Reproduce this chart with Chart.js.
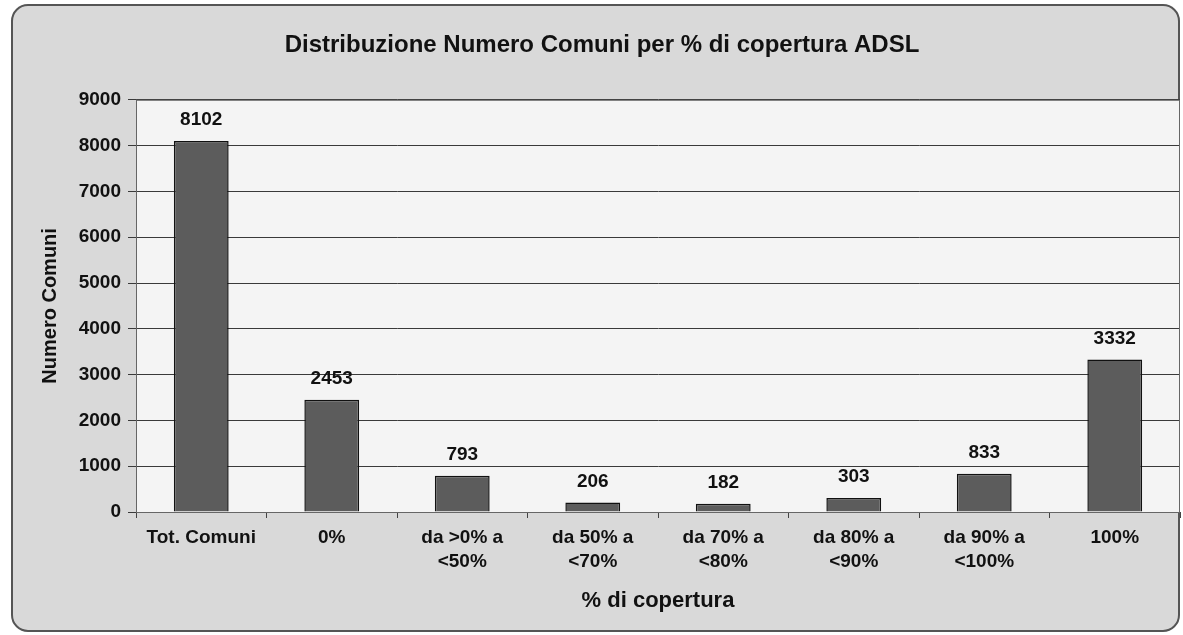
<!DOCTYPE html>
<html>
<head>
<meta charset="utf-8">
<script src="https://cdn.jsdelivr.net/npm/chart.js@4.4.1/dist/chart.umd.min.js"></script>
<style>
  html, body { margin: 0; padding: 0; background: #fff; }
  #wrap { width: 1183px; height: 635px; position: relative; }
</style>
</head>
<body>
<div id="wrap"><canvas id="chart"></canvas></div>
<script>
// dati
const categories = [
  'Tot. Comuni',
  '0%',
  ['da >0% a', '<50%'],
  ['da 50% a', '<70%'],
  ['da 70% a', '<80%'],
  ['da 80% a', '<90%'],
  ['da 90% a', '<100%'],
  '100%'
];
const numeroComuni = [8102, 2453, 793, 206, 182, 303, 833, 3332];
const yTicks = [0, 1000, 2000, 3000, 4000, 5000, 6000, 7000, 8000, 9000];

const FONT = 'Liberation Sans, Arial, sans-serif';

// sfondo della cornice e dell'area del grafico
const backgroundPlugin = {
  id: 'background',
  beforeDraw(chart) {
    const { ctx, chartArea } = chart;
    ctx.save();
    ctx.fillStyle = '#ffffff';
    ctx.fillRect(0, 0, chart.width, chart.height);
    ctx.beginPath();
    ctx.roundRect(12, 5, 1167, 626, 16);
    ctx.fillStyle = '#d9d9d9';
    ctx.fill();
    ctx.lineWidth = 2;
    ctx.strokeStyle = '#555';
    ctx.stroke();
    ctx.fillStyle = '#f4f4f4';
    ctx.fillRect(chartArea.left, chartArea.top, chartArea.right - chartArea.left, chartArea.bottom - chartArea.top);
    ctx.restore();
  },
  afterDraw(chart) {
    const { ctx, chartArea } = chart;
    ctx.save();
    ctx.strokeStyle = '#666';
    ctx.lineWidth = 1;
    ctx.strokeRect(chartArea.left + 0.5, chartArea.top + 0.5, chartArea.right - chartArea.left - 1, chartArea.bottom - chartArea.top);
    ctx.restore();
  }
};

// etichette dei valori sopra le barre
const valueLabels = {
  id: 'valueLabels',
  afterDatasetsDraw(chart) {
    const { ctx } = chart;
    const meta = chart.getDatasetMeta(0);
    ctx.save();
    ctx.font = 'bold 19px ' + FONT;
    ctx.fillStyle = '#111';
    ctx.textAlign = 'center';
    ctx.textBaseline = 'middle';
    meta.data.forEach((bar, i) => {
      ctx.fillText(String(numeroComuni[i]), bar.x, bar.y - 21);
    });
    ctx.restore();
  }
};

new Chart(document.getElementById('chart'), {
  type: 'bar',
  data: {
    labels: categories,
    datasets: [{
      label: 'Numero Comuni',
      data: numeroComuni,
      backgroundColor: '#5c5c5c',
      borderColor: '#111',
      borderWidth: 1.5,
      barPercentage: 0.42,
      categoryPercentage: 1
    }]
  },
  options: {
    responsive: true,
    maintainAspectRatio: false,
    animation: false,
    layout: { padding: { left: 24, right: 3, top: 0, bottom: 0 } },
    plugins: {
      legend: { display: false },
      tooltip: { enabled: false },
      title: {
        display: true,
        text: 'Distribuzione Numero Comuni per % di copertura ADSL',
        color: '#111',
        font: { family: FONT, size: 24, weight: 'bold', lineHeight: 1.2 },
        padding: { top: 31, bottom: 40 }
      }
    },
    scales: {
      x: {
        grid: { drawOnChartArea: false, drawTicks: true, tickLength: 6, color: '#444', offset: true },
        border: { display: true, color: '#444', width: 1 },
        ticks: {
          color: '#111',
          padding: 7,
          maxRotation: 0,
          autoSkip: false,
          font: { family: FONT, size: 19, weight: 'bold', lineHeight: 1.3 }
        },
        title: {
          display: true,
          text: '% di copertura',
          color: '#111',
          font: { family: FONT, size: 22, weight: 'bold', lineHeight: 1.2 },
          padding: { bottom: 21 }
        },
        afterFit(scale) { scale.height = 123; }
      },
      y: {
        min: 0,
        max: 9000,
        afterBuildTicks(scale) { scale.ticks = yTicks.map(v => ({ value: v })); },
        grid: { color: '#3a3a3a', lineWidth: 1, drawTicks: true, tickLength: 8 },
        border: { display: true, color: '#444', width: 1 },
        ticks: {
          color: '#111',
          padding: 7,
          font: { family: FONT, size: 19, weight: 'bold' },
          callback: v => String(v)
        },
        title: {
          display: true,
          text: 'Numero Comuni',
          color: '#111',
          font: { family: FONT, size: 20, weight: 'bold', lineHeight: 1.2 },
          padding: { top: 14 }
        },
        afterFit(scale) { scale.width = 112; }
      }
    }
  },
  plugins: [backgroundPlugin, valueLabels]
});
</script>
</body>
</html>
